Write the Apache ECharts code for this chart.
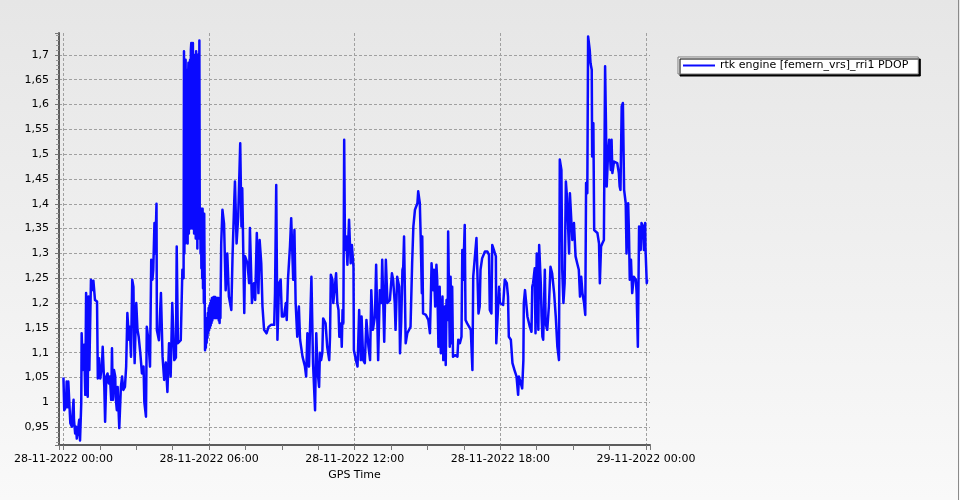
<!DOCTYPE html>
<html>
<head>
<meta charset="utf-8">
<script src="https://cdn.jsdelivr.net/npm/echarts@6/dist/echarts.min.js"></script>
<style>html,body{margin:0;padding:0;background:#fff}#c{width:960px;height:500px}</style>
</head>
<body>
<div id="c"></div>
<script>
// Minutes after 28-11-2022 00:00 (GPS time)
const minutes = [
0,2,6,8,11,12,17,21,23,25,26,29,31,33,36,39,41,44,45,48,51,54,56,59,60,62,64,68,71,74,78,83,85,88,91,95,97,101,103,106,109,112,115,118,120,122,125,128,129,132,134,138,142,145,148,152,155,158,162,164,167,170,173,175,176,180,183,186,190,192,194,198,200,204,206,210,213,214,217,220,222,225,227,230,231,236,241,245,249,253,257,261,265,269,274,278,280,283,290,294,297,
298,299,300,301,302,303,304,305,306,307,308,309,310,311,312,313,314,315,316,317,318,319,320,321,322,323,324,325,326,327,328,329,330,331,332,333,334,335,336,337,338,339,340,341,342,343,344,345,346,347,348,349,350,
351,352,353,354,355,356,357,358,359,360,361,362,363,364,365,366,367,368,369,370,371,372,373,374,375,376,377,378,379,380,381,382,383,384,385,386,387,388,389,
390,393,397,401,405,409,415,418,422,424,428,432,437,440,442,447,449,455,459,461,466,471,474,478,482,485,489,492,496,502,507,513,521,523,526,529,533,537,540,545,550,552,555,560,563,568,571,574,578,582,585,591,597,600,603,607,613,617,622,625,628,632,
634,637,640,642,648,652,657,659,661,665,667,671,674,677,680,682,686,688,690,692,694,696,699,702,706,710,713,717,718,723,727,731,735,737,741,745,749,754,758,761,765,770,773,778,782,786,788,793,797,801,807,812,815,819,821,825,830,832,835,838,840,842,
846,850,858,862,865,869,875,877,881,883,886,887,889,896,902,906,908,910,914,916,919,922,924,927,930,933,937,939,943,945,947,950,951,955,957,960,961,963,968,974,976,980,984,986,988,992,994,998,1003,1007,1011,1013,1017,1021,1024,1026,1029,1031,1035,1042,1048,1052,
1054,1058,1060,1064,1069,1070,1074,1077,1079,1082,1087,1091,1096,1099,1101,1106,1110,1115,1120,1124,1126,1130,1134,1137,1138,1141,1144,1147,1149,1153,1157,1159,1161,1165,1167,1170,1174,1176,1180,1182,1184,1186,1190,1192,1196,1200,1204,1208,1213,1217,1221,1225,1227,1231,1233,1236,1239,1242,1245,1250,1252,1255,1258,1262,
1266,1270,1274,1277,1280,1283,1287,1290,1292,1295,1297,1301,1303,1306,1307,1310,1312,1316,1320,1324,1326,1329,1332,1336,1339,1341,1343,1346,1349,1353,1355,1357,1361,1365,1369,1373,1375,1377,1380,1383,1386,1390,1392,1396,1398,1400,1403,1406,1410,1415,1417,1420,1423,1425,1427,1429,1433,1435,1438,1439,1442,1443
];
const pdop = [
1.05,0.984,0.99,1.042,0.99,1.042,0.958,0.951,0.984,1.005,0.965,0.937,0.951,0.927,0.944,0.965,0.923,0.998,1.139,1.065,1.116,1.015,1.22,1.105,1.011,1.213,1.065,1.247,1.226,1.245,1.206,1.203,1.048,1.089,1.048,1.072,1.112,1.031,0.961,1.052,1.058,1.038,1.052,1.005,1.109,1.005,1.065,1.052,1.011,0.984,1.031,0.948,1.031,1.052,1.025,1.031,1.072,1.18,1.126,1.152,1.092,1.247,1.233,1.112,1.079,1.2,1.146,1.132,1.099,1.079,1.058,1.072,1.0,0.971,1.152,1.126,1.085,1.072,1.287,1.247,1.267,1.361,1.30,1.40,1.145,1.125,1.22,1.092,1.045,1.08,1.021,1.119,1.052,1.2,1.085,1.09,1.314,1.119,1.125,1.267,1.25,
1.707,1.30,1.66,1.32,1.69,1.33,1.64,1.34,1.67,1.32,1.65,1.684,1.34,1.68,1.36,1.69,1.35,1.71,1.724,1.37,1.72,1.35,1.724,1.38,1.70,1.34,1.69,1.36,1.70,1.33,1.707,1.35,1.68,1.31,1.70,1.34,1.66,1.33,1.729,1.36,1.39,1.30,1.39,1.27,1.39,1.25,1.39,1.23,1.38,1.20,1.38,1.25,1.105,
1.15,1.11,1.16,1.12,1.17,1.13,1.18,1.14,1.19,1.145,1.195,1.15,1.20,1.155,1.205,1.16,1.21,1.165,1.21,1.17,1.212,1.17,1.212,1.17,1.212,1.17,1.21,1.17,1.21,1.175,1.21,1.17,1.21,1.165,1.20,1.16,1.20,1.17,1.166,
1.32,1.388,1.36,1.226,1.30,1.213,1.186,1.294,1.40,1.445,1.32,1.374,1.522,1.354,1.431,1.18,1.294,1.28,1.24,1.351,1.2,1.24,1.206,1.341,1.22,1.327,1.28,1.193,1.146,1.139,1.152,1.156,1.156,1.22,1.438,1.126,1.24,1.247,1.173,1.173,1.2,1.166,1.247,1.314,1.371,1.247,1.347,1.2,1.132,1.193,1.126,1.092,1.072,1.052,1.139,1.072,1.253,1.079,0.984,1.139,1.065,1.031,
1.10,1.085,1.10,1.169,1.159,1.112,1.085,1.132,1.257,1.247,1.2,1.233,1.26,1.2,1.186,1.132,1.159,1.112,1.186,1.159,1.529,1.307,1.334,1.277,1.368,1.28,1.317,1.273,1.105,1.085,1.072,1.186,1.085,1.173,1.085,1.079,1.166,1.112,1.085,1.226,1.146,1.173,1.277,1.085,1.226,1.2,1.287,1.122,1.287,1.2,1.206,1.26,1.247,1.2,1.146,1.253,1.233,1.099,1.163,1.267,1.273,1.334,
1.119,1.139,1.152,1.28,1.354,1.388,1.401,1.425,1.401,1.337,1.22,1.334,1.179,1.176,1.166,1.139,1.203,1.28,1.226,1.267,1.193,1.277,1.247,1.112,1.233,1.099,1.213,1.085,1.193,1.075,1.206,1.166,1.344,1.112,1.253,1.119,1.233,1.092,1.095,1.092,1.126,1.119,1.132,1.307,1.247,1.357,1.166,1.159,1.152,1.146,1.065,1.253,1.253,1.331,1.327,1.179,1.193,1.267,1.29,1.304,1.304,1.297,
1.186,1.179,1.317,1.307,1.294,1.119,1.116,1.233,1.2,1.2,1.196,1.247,1.24,1.213,1.132,1.126,1.079,1.065,1.052,1.015,1.052,1.052,1.028,1.085,1.2,1.226,1.223,1.173,1.166,1.152,1.142,1.233,1.24,1.27,1.139,1.3,1.146,1.317,1.24,1.173,1.132,1.126,1.267,1.159,1.146,1.193,1.273,1.26,1.22,1.173,1.112,1.085,1.489,1.468,1.267,1.2,1.24,1.445,1.411,1.3,1.421,1.425,1.327,1.361,
1.294,1.28,1.267,1.213,1.253,1.22,1.2,1.176,1.442,1.421,1.737,1.71,1.683,1.67,1.495,1.562,1.347,1.347,1.341,1.32,1.24,1.314,1.32,1.327,1.677,1.569,1.435,1.495,1.529,1.468,1.529,1.462,1.485,1.488,1.482,1.462,1.435,1.428,1.596,1.603,1.428,1.401,1.3,1.401,1.341,1.247,1.287,1.22,1.253,1.247,1.22,1.112,1.354,1.354,1.307,1.361,1.354,1.307,1.361,1.307,1.24,1.247
];
const xTickLabels = ['28-11-2022 00:00','28-11-2022 06:00','28-11-2022 12:00','28-11-2022 18:00','29-11-2022 00:00'];
const seriesName = 'rtk engine [femern_vrs]_rri1 PDOP';
const xAxisName = 'GPS Time';

const points = minutes.map((m, i) => [m, pdop[i]]);
const FONT = 'DejaVu Sans';

const chart = echarts.init(document.getElementById('c'), null, {renderer: 'canvas'});
chart.setOption({
  animation: false,
  backgroundColor: {
    type: 'linear', x: 0, y: 0, x2: 0, y2: 1,
    colorStops: [{offset: 0, color: '#e6e6e6'}, {offset: 1, color: '#f9f9f9'}]
  },
  textStyle: {fontFamily: FONT},
  grid: {left: 59, right: 310, top: 33, bottom: 55, containLabel: false},
  legend: {
    left: 678, top: 57,
    orient: 'vertical',
    data: [{name: seriesName, icon: 'rect'}],
    itemWidth: 32, itemHeight: 2,
    padding: [3, 10, 3, 5],
    backgroundColor: '#ffffff',
    borderColor: '#7a7a7a', borderWidth: 1, borderRadius: 0,
    shadowColor: '#000000', shadowBlur: 0, shadowOffsetX: 2, shadowOffsetY: 2,
    textStyle: {fontFamily: FONT, fontSize: 11, color: '#000'}
  },
  xAxis: {
    type: 'value',
    min: -11, max: 1450,
    minInterval: 360, maxInterval: 360, splitNumber: 4,
    name: xAxisName, nameLocation: 'middle', nameGap: 24,
    nameTextStyle: {fontFamily: FONT, fontSize: 11, color: '#000'},
    axisLine: {show: true, onZero: false, lineStyle: {color: '#5c5c5c', width: 2}},
    axisTick: {show: true, length: 5, lineStyle: {color: '#777'}},
    minorTick: {show: true, splitNumber: 4, length: 5, lineStyle: {color: '#777'}},
    axisLabel: {
      show: true, margin: 9, fontFamily: FONT, fontSize: 11, color: '#000',
      showMinLabel: false, showMaxLabel: false,
      formatter: v => {
        const k = Math.round(v / 360);
        if (Math.abs(v - k * 360) > 1e-6 || k < 0 || k >= xTickLabels.length) return '';
        return xTickLabels[k];
      }
    },
    splitLine: {show: true, showMinLine: false, showMaxLine: false, lineStyle: {color: '#a0a0a0', type: [3, 2], width: 1}}
  },
  yAxis: {
    type: 'value',
    min: 0.914, max: 1.744,
    minInterval: 0.05, maxInterval: 0.05, splitNumber: 16,
    axisLine: {show: true, onZero: false, lineStyle: {color: '#5c5c5c', width: 2}},
    axisTick: {show: true, length: 4, lineStyle: {color: '#777'}},
    minorTick: {show: true, splitNumber: 5, length: 3, lineStyle: {color: '#999'}},
    axisLabel: {
      show: true, margin: 10, fontFamily: FONT, fontSize: 11, color: '#000',
      showMinLabel: false, showMaxLabel: false,
      formatter: v => {
        const k = Math.round(v * 100);
        if (Math.abs(v * 100 - k) > 1e-6 || k % 5 !== 0) return '';
        return String(k / 100).replace('.', ',');
      }
    },
    splitLine: {show: true, showMinLine: false, showMaxLine: false, lineStyle: {color: '#a0a0a0', type: [3, 2], width: 1}}
  },
  series: [{
    name: seriesName,
    type: 'line',
    data: points,
    showSymbol: false,
    symbol: 'none',
    sampling: null,
    lineStyle: {color: '#0a0aff', width: 2.5, join: 'round'},
    itemStyle: {color: '#0a0aff'},
    z: 3
  }],
  graphic: [
    {type: 'line', shape: {x1: 958.5, y1: 0, x2: 958.5, y2: 500}, style: {stroke: '#8a8a8a', lineWidth: 1}, silent: true}
  ]
});
</script>
</body>
</html>
